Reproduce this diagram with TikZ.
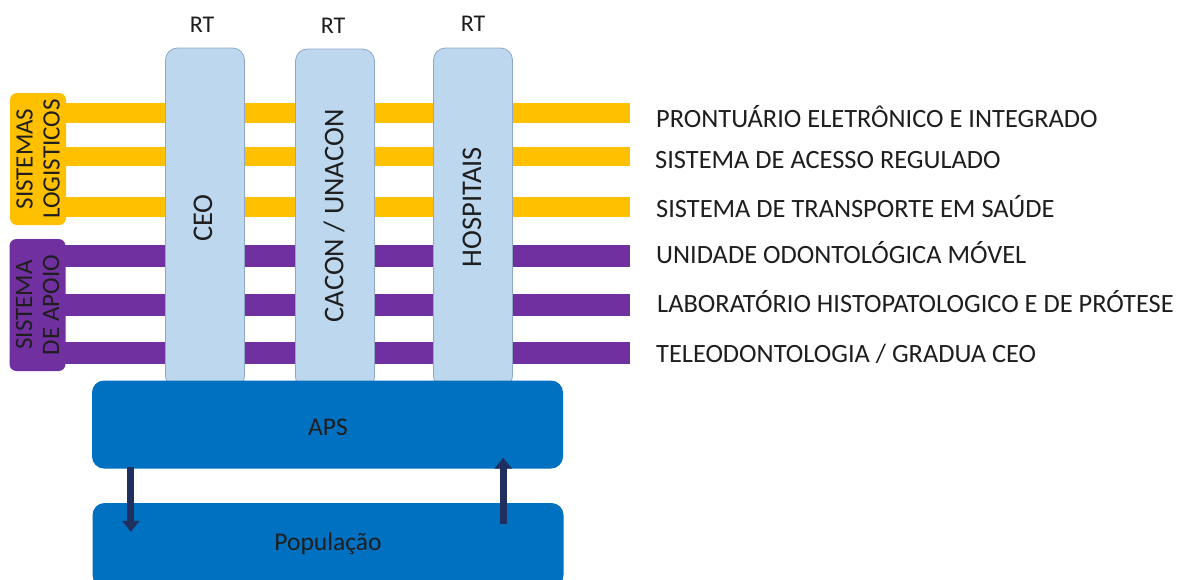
\documentclass[tikz,border=0pt]{standalone}
\usepackage{fontspec}
\setmainfont{Carlito}
\usetikzlibrary{arrows.meta}
\definecolor{ylw}{HTML}{FFC000}
\definecolor{prp}{HTML}{7030A0}
\definecolor{apsblue}{HTML}{0070C0}
\definecolor{collight}{HTML}{BDD7EE}
\definecolor{colline}{HTML}{8EA9C8}
\definecolor{navy}{HTML}{1F2F5F}
\definecolor{txt}{HTML}{1E1E1E}
\tikzset{
  col/.style={draw=colline, line width=0.8pt, fill=collight, rounded corners=12pt, minimum width=79pt, minimum height=340pt, inner sep=0pt},
  coltxt/.style={rotate=90, text=txt, font=\fontsize{28.5}{30}\selectfont, inner sep=0pt},
  rttxt/.style={anchor=base, text=txt, font=\fontsize{24}{26}\selectfont, inner sep=0pt},
  sidebox/.style={rotate=90, rounded corners=7pt, minimum width=132pt, minimum height=56pt, inner sep=0pt, align=center, text=txt, font=\fontsize{25}{27}\selectfont},
  lbl/.style={anchor=base west, text=txt, font=\fontsize{26.4}{28}\selectfont, inner sep=0pt},
  bigbox/.style={fill=apsblue, rounded corners=12pt, minimum width=471pt, inner sep=0pt},
  bigtxt/.style={anchor=base, text=txt, font=\fontsize{25.5}{27}\selectfont, inner sep=0pt},
  arr/.style={draw=navy, line width=7pt, -{Triangle[width=17pt,length=11pt]}},
}
\begin{document}
\begin{tikzpicture}[x=1pt,y=-1pt]
\clip (0,0) rectangle (1184,579);
\fill[white] (0,0) rectangle (1184,579);
% bars
\fill[ylw] (62,103) rectangle (630,123);
\fill[ylw] (62,147) rectangle (630,166);
\fill[ylw] (62,197) rectangle (630,217);
\fill[prp] (62,245) rectangle (630,267);
\fill[prp] (62,294) rectangle (630,316);
\fill[prp] (62,342) rectangle (630,364);
% columns
\node[col] (ceo) at (205,218) {};
\node[col] (cacon) at (335,219) {};
\node[col] (hosp) at (473,218) {};
\node[coltxt] (ceot) at (203,218) {CEO};
\node[coltxt] (cacont) at (334,216) {CACON / UNACON};
\node[coltxt] (hospt) at (472,207) {HOSPITAIS};
% RT
\node[rttxt] (rt1) at (202,32) {RT};
\node[rttxt] (rt2) at (333,33) {RT};
\node[rttxt] (rt3) at (473,31) {RT};
% side boxes
\node[sidebox, fill=ylw] (log) at (38,159) {SISTEMAS\\LOGISTICOS};
\node[sidebox, fill=prp] (apoio) at (37.5,305) {SISTEMA\\DE APOIO};
% labels
\node[lbl] (l1) at (656,127) {PRONTUÁRIO ELETRÔNICO E INTEGRADO};
\node[lbl] (l2) at (655,168) {SISTEMA DE ACESSO REGULADO};
\node[lbl] (l3) at (656,217) {SISTEMA DE TRANSPORTE EM SAÚDE};
\node[lbl] (l4) at (656,263) {UNIDADE ODONTOLÓGICA MÓVEL};
\node[lbl] (l5) at (657,312) {LABORATÓRIO HISTOPATOLOGICO E DE PRÓTESE};
\node[lbl] (l6) at (656,362) {TELEODONTOLOGIA / GRADUA CEO};
% APS and population
\node[bigbox, minimum height=88pt] (aps) at (327.5,424.5) {};
\node[bigtxt] (apst) at (328,435) {APS};
\node[bigbox, minimum height=84pt] (pop) at (328,545) {};
\node[bigtxt] (popt) at (328,550) {População};
% arrows
\draw[arr] (aps.south west) ++(39,-2) coordinate (a1s) -- (a1s |- pop.north) -- ++(0,29);
\draw[arr] (aps.south east) ++(-60,55) coordinate (a2s) -- (a2s |- aps.south) -- ++(0,-11);
\end{tikzpicture}
\end{document}
